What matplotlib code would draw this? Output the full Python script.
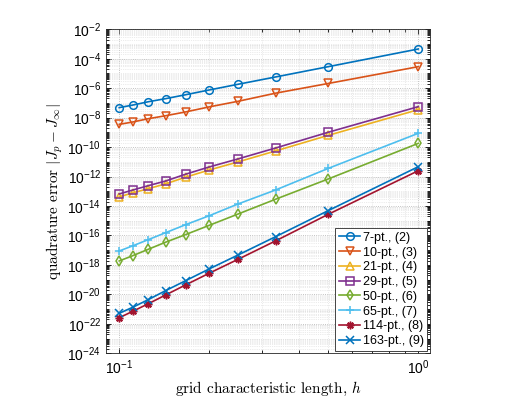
import numpy as np
import matplotlib
matplotlib.use("Agg")
import matplotlib.pyplot as plt
from matplotlib.ticker import LogLocator, NullFormatter, FixedLocator

plt.rcParams['font.family'] = ['Liberation Sans', 'DejaVu Sans']
plt.rcParams['mathtext.fontset'] = 'cm'

h = [0.1, 0.1111, 0.125, 0.1429, 0.1667, 0.2, 0.25, 0.3333, 0.5, 1.0]

err_7 = [4.8e-8, 7.2e-8, 1.2e-7, 1.95e-7, 3.6e-7, 7.6e-7, 1.86e-6, 5.8e-6, 2.9e-5, 4.6e-4]
err_10 = [3.5e-9, 5.1e-9, 8.5e-9, 1.35e-8, 2.45e-8, 5.4e-8, 1.3e-7, 4.6e-7, 2.1e-6, 2.9e-5]
err_21 = [4.2e-14, 7.9e-14, 1.5e-13, 3.2e-13, 9.1e-13, 2.8e-12, 1.0e-11, 5.5e-11, 6.3e-10, 3.5e-8]
err_29 = [6.6e-14, 1.23e-13, 2.4e-13, 5.0e-13, 1.45e-12, 4.5e-12, 1.6e-11, 8.7e-11, 1.02e-9, 5.6e-8]
err_50 = [1.86e-18, 4.3e-18, 1.15e-17, 3.5e-17, 1.15e-16, 4.9e-16, 2.9e-15, 2.9e-14, 6.9e-13, 1.8e-10]
err_65 = [8.9e-18, 2.0e-17, 5.2e-17, 1.55e-16, 5.4e-16, 2.2e-15, 1.4e-14, 1.23e-13, 3.6e-12, 8.7e-10]
err_114 = [2.6e-22, 7.2e-22, 2.3e-21, 9.1e-21, 4.4e-20, 2.75e-19, 2.45e-18, 4.3e-17, 2.75e-15, 2.5e-12]
err_163 = [5.2e-22, 1.35e-21, 4.4e-21, 1.8e-20, 8.5e-20, 5.4e-19, 4.8e-18, 8.3e-17, 4.9e-15, 4.7e-12]

labels = ["7-pt., (2)", "10-pt., (3)", "21-pt., (4)", "29-pt., (5)",
          "50-pt., (6)", "65-pt., (7)", "114-pt., (8)", "163-pt., (9)"]
series = [err_7, err_10, err_21, err_29, err_50, err_65, err_114, err_163]
colors = ["#0072BD", "#D95319", "#EDB120", "#7E2F8E",
          "#77AC30", "#4DBEEE", "#A2142F", "#0072BD"]
markers = ["o", "v", "^", "s", "d", "+", (8, 2, 0), "x"]

fig = plt.figure(figsize=(5.18, 3.98), dpi=100)
ax = fig.add_axes([0.2046, 0.1123, 0.6255, 0.8141])

for y, lab, c, m in zip(series, labels, colors, markers):
    ax.loglog(h, y, color=c, marker=m, markersize=5.5, lw=1.2,
              markerfacecolor="none", markeredgewidth=1.1, label=lab)

ax.set_xlim(0.0903, 1.094)
ax.set_ylim(1e-24, 1e-2)

ax.xaxis.set_major_locator(FixedLocator([0.1, 1.0]))
ax.xaxis.set_minor_locator(LogLocator(base=10, subs=np.arange(2, 10), numticks=20))
ax.xaxis.set_minor_formatter(NullFormatter())
ax.yaxis.set_major_locator(FixedLocator([10.0 ** k for k in range(-24, -1, 2)]))
ax.yaxis.set_minor_locator(LogLocator(base=10, subs=np.arange(1, 10), numticks=200))
ax.yaxis.set_minor_formatter(NullFormatter())

ax.tick_params(which="both", direction="in", top=True, right=True, labelsize=10, width=0.6)
ax.tick_params(which="major", length=3.5)
ax.tick_params(which="minor", length=2)
for s in ax.spines.values():
    s.set_linewidth(0.6)
    s.set_color("#262626")

ax.grid(True, which="major", linestyle=":", color="#b0b0b0", lw=0.6)
ax.grid(True, which="minor", linestyle=":", color="#d8d8d8", lw=0.5)

ax.set_xlabel(r"grid characteristic length, $h$", fontsize=11, family="cmr10", labelpad=2)
ax.set_ylabel(r"quadrature error $|J_p - J_\infty|$", fontsize=11, family="cmr10", labelpad=2)

leg = ax.legend(loc="lower right", fontsize=9, fancybox=False, framealpha=1,
                edgecolor="#262626", borderpad=0.3, labelspacing=0.22,
                handlelength=1.7, handletextpad=0.2, borderaxespad=0.2)
leg.get_frame().set_linewidth(0.6)

fig.savefig("out.png", dpi=100)
